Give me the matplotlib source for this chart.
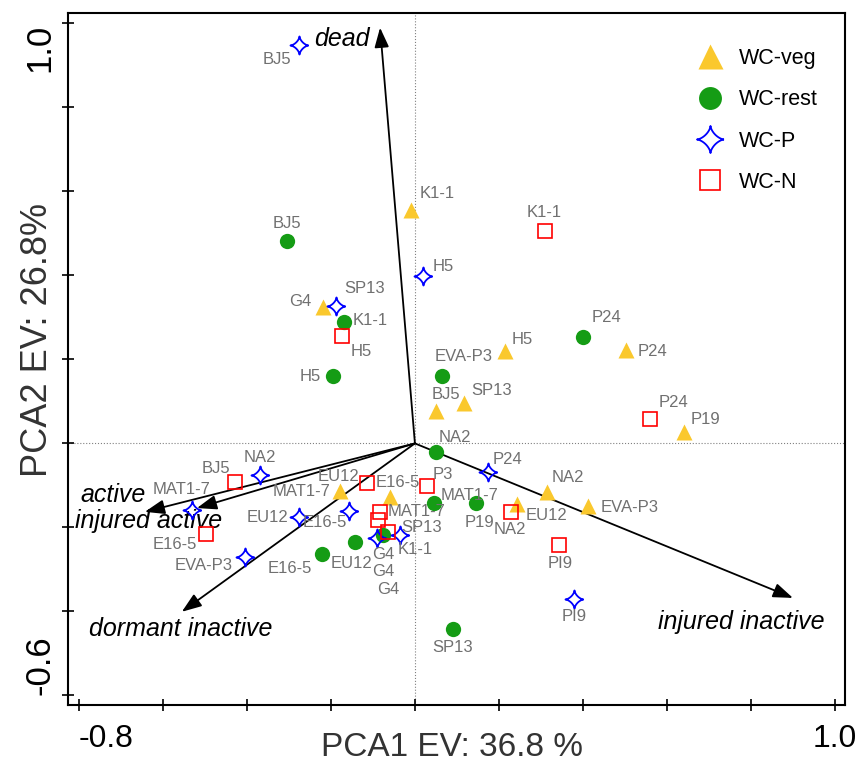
import numpy as np
import matplotlib
matplotlib.use('Agg')
import matplotlib.pyplot as plt
from matplotlib.path import Path

plt.rcParams['font.family'] = ['Liberation Sans', 'DejaVu Sans']

# muestras por grupo (coordenadas PCA1, PCA2)
veg_names = ['K1-1', 'G4', 'H5', 'P24', 'BJ5', 'SP13', 'P19', 'MAT1-7', 'E16-5', 'NA2', 'EU12', 'EVA-P3']
veg_x = [-0.010, -0.219, 0.214, 0.502, 0.050, 0.117, 0.640, -0.179, -0.060, 0.314, 0.243, 0.412]
veg_y = [0.556, 0.325, 0.219, 0.223, 0.077, 0.096, 0.027, -0.113, -0.127, -0.115, -0.144, -0.149]

rest_names = ['BJ5', 'K1-1', 'H5', 'EVA-P3', 'P24', 'NA2', 'MAT1-7', 'P19', 'G4', 'EU12', 'E16-5', 'SP13']
rest_x = [-0.305, -0.169, -0.195, 0.064, 0.400, 0.050, 0.045, 0.145, -0.076, -0.143, -0.221, 0.090]
rest_y = [0.482, 0.289, 0.161, 0.161, 0.254, -0.020, -0.142, -0.142, -0.218, -0.235, -0.263, -0.442]

p_names = ['BJ5', 'H5', 'SP13', 'NA2', 'MAT1-7', 'EU12', 'E16-5', 'EVA-P3', 'P24', 'G4', 'K1-1', 'PI9']
p_x = [-0.276, 0.019, -0.188, -0.369, -0.531, -0.276, -0.157, -0.405, 0.174, -0.090, -0.036, 0.379]
p_y = [0.949, 0.399, 0.327, -0.075, -0.158, -0.175, -0.161, -0.270, -0.068, -0.225, -0.218, -0.370]

n_names = ['K1-1', 'H5', 'P24', 'BJ5', 'EU12', 'P3', 'MAT1-7', 'SP13', 'G4', 'NA2', 'PI9', 'E16-5']
n_x = [0.310, -0.174, 0.560, -0.429, -0.114, 0.029, -0.083, -0.088, -0.064, 0.229, 0.343, -0.498]
n_y = [0.506, 0.256, 0.058, -0.092, -0.094, -0.101, -0.163, -0.182, -0.211, -0.163, -0.242, -0.215]

# vectores de las variables
var_names = ['dead', 'injured inactive', 'active', 'injured active', 'dormant inactive']
var_x = [-0.083, 0.900, -0.643, -0.519, -0.555]
var_y = [0.990, -0.368, -0.163, -0.154, -0.401]

# desplazamiento de las etiquetas (pixeles)
veg_off = [(26, 16), (-23, 5), (17, 12), (27, -2), (10, 17), (28, 13), (22, 13), (-38, -1), (8, 14), (21, 14), (30, -12), (42, -2)]
rest_off = [(0, 18), (26, 2), (-23, -1), (22, 19), (24, 19), (19, 14), (36, 8), (4, -19), (0, -20), (-3, -21), (-32, -15), (0, -19)]
p_off = [(-22, -15), (20, 9), (29, 18), (0, 17), (-10, 20), (-31, -1), (-24, -11), (-41, -9), (20, 12), (6, -34), (15, -15), (0, -18)]
n_off = [(-1, 18), (19, -16), (23, 17), (-19, 14), (-29, 6), (16, 11), (37, 0), (44, -8), (0, -58), (-1, -18), (1, -18), (-31, -11)]
var_off = [(-38, -11), (-52, -24), (-32, 17), (-48, -13), (-1, -17)]

# estrella de 4 puntas
t = np.linspace(0, 2 * np.pi, 81)
c, s = np.cos(t), np.sin(t)
estrella = Path(np.column_stack([np.sign(c) * np.abs(c) ** 3, np.sign(s) * np.abs(s) ** 3]))

fig = plt.figure(figsize=(8.56, 7.67), dpi=100)
ax = fig.add_axes([68 / 856, 1 - 705 / 767, 777 / 856, 692 / 767])

ax.axhline(0, color='gray', lw=0.8, ls=':', zorder=1)
ax.axvline(0, color='gray', lw=0.8, ls=':', zorder=1)

for nombre, vx, vy, off in zip(var_names, var_x, var_y, var_off):
    ax.annotate('', xy=(vx, vy), xytext=(0, 0),
                arrowprops=dict(arrowstyle='-|>,head_length=0.6,head_width=0.22', color='black',
                                lw=1.3, shrinkA=0, shrinkB=0, mutation_scale=20), zorder=2)
    ax.annotate(nombre, xy=(vx, vy), xytext=off, textcoords='offset pixels',
                ha='center', va='center', fontsize=18, style='italic', color='black')

ax.plot(veg_x, veg_y, ls='none', marker='^', ms=12, color='#FAC82D', mec='none', label='WC-veg', zorder=3)
ax.plot(rest_x, rest_y, ls='none', marker='o', ms=11, color='#159c15', mec='none', label='WC-rest', zorder=3)
ax.plot(p_x, p_y, ls='none', marker=estrella, ms=13, mfc='none', mec='#0000FF', mew=1.3, label='WC-P', zorder=4)
ax.plot(n_x, n_y, ls='none', marker='s', ms=9.5, mfc='none', mec='#FF0000', mew=1.2, label='WC-N', zorder=4)

for nombres, xs, ys, offs in [(veg_names, veg_x, veg_y, veg_off), (rest_names, rest_x, rest_y, rest_off),
                              (p_names, p_x, p_y, p_off), (n_names, n_x, n_y, n_off)]:
    for nombre, x, y, off in zip(nombres, xs, ys, offs):
        ax.annotate(nombre, xy=(x, y), xytext=off, textcoords='offset pixels',
                    ha='center', va='center', fontsize=12, color='#707070', zorder=5)

ax.set_xlim(-0.826, 1.024)
ax.set_ylim(-0.623, 1.025)

xt = np.round(np.arange(-0.8, 1.01, 0.2), 1)
ax.set_xticks(xt, labels=['-0.8' if v == -0.8 else ('1.0' if v == 1.0 else '') for v in xt])
yt = np.round(np.arange(-0.6, 1.01, 0.2), 1)
ax.set_yticks(yt, labels=['-0.6' if v == -0.6 else ('1.0' if v == 1.0 else '') for v in yt])
ax.tick_params(axis='both', direction='inout', length=9, width=1.2, colors='black')
ax.tick_params(axis='x', labelsize=23, pad=9)
ax.tick_params(axis='y', labelsize=25, pad=4)
for lab in ax.get_xticklabels():
    if lab.get_text() == '-0.8':
        lab.set_ha('left')
for lab in ax.get_yticklabels():
    lab.set_rotation(90)
    if lab.get_text() == '-0.6':
        lab.set_va('bottom')
    elif lab.get_text() == '1.0':
        lab.set_va('top')

for sp in ax.spines.values():
    sp.set_linewidth(1.5)
    sp.set_color('black')

ax.set_xlabel('PCA1 EV: 36.8 %', fontsize=24, color='#333333')
ax.xaxis.set_label_coords(0.494, -0.039)
ax.set_ylabel('PCA2 EV: 26.8%', fontsize=26, color='#333333')
ax.yaxis.set_label_coords(-0.017, 0.527)

ax.legend(loc='upper right', bbox_to_anchor=(0.99, 0.978), frameon=False, fontsize=15.5,
          markerscale=1.5, labelspacing=0.95, handletextpad=0.35)

plt.savefig('out.png', dpi=100)
